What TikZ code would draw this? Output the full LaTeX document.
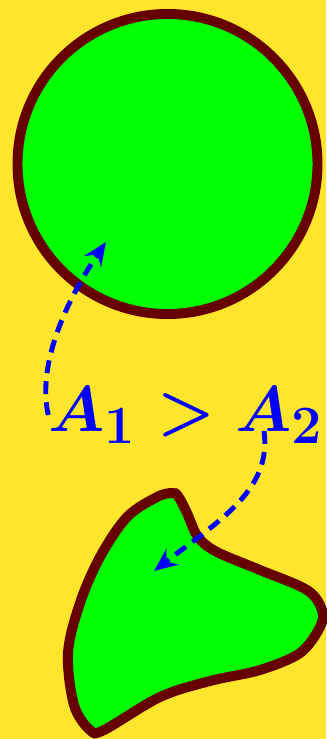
\documentclass[tikz,border=0pt]{standalone}
\usepackage{amsmath}
\usepackage{graphicx}
\usetikzlibrary{arrows.meta}
\definecolor{bgyellow}{HTML}{FFE52B}
\definecolor{areagreen}{HTML}{00FF00}
\definecolor{rim}{HTML}{660000}
\tikzset{
  region/.style={fill=areagreen, draw=rim, line width=8.5pt},
  pointer/.style={draw=blue, line width=4.2pt, dash pattern=on 11pt off 7pt,
    -{Stealth[length=20pt, width=17pt, inset=7pt]}},
  bigmath/.style={text=blue, inner sep=0pt, font=\Huge\boldmath},
}
\begin{document}
\begin{tikzpicture}[x=0.03cm, y=-0.03cm]
                        \fill[bgyellow] (0,0) rectangle (326,739);
                        \useasboundingbox (0,0) rectangle (326,739);

                        \draw[region] (167.5,164) circle[radius=4.5cm];
                        \draw[region] plot[smooth cycle, tension=0.55] coordinates {(172,493) (178,496) (187,513) (198,537) (217,552) (260,570) (307,590) (322,610) (320,627) (300,653) (260,670) (210,681) (160,697) (104,730) (90,730) (74,705) (68,653) (80,603) (100,557) (127,517) (157,497)};

                        \node (ineq) at (186,415) [bigmath] {\scalebox{2.22}{$A_1 > A_2$}};
                        \coordinate (circletip) at (106,242);
                        \coordinate (blobtip) at (154,571);
                        \coordinate (subtwo) at (264,431);

                        \draw[pointer] (ineq.west) .. controls (38,370) and (60,310) .. (circletip);
                        \draw[pointer] (subtwo) .. controls (272,490) and (220,520) .. (blobtip);
                    \end{tikzpicture}
\end{document}
